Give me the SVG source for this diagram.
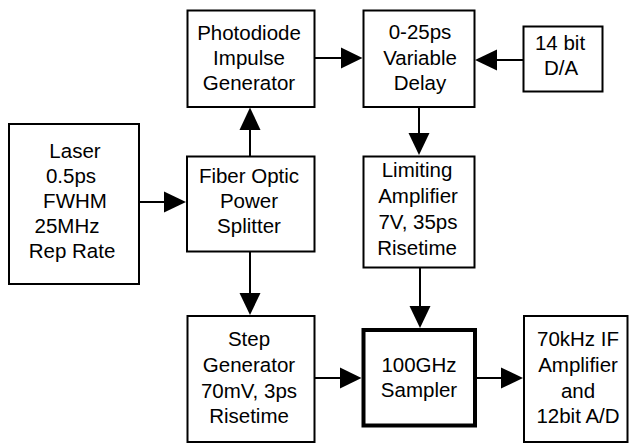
<svg xmlns="http://www.w3.org/2000/svg" width="629" height="444" viewBox="0 0 629 444">
<style>
rect{fill:#fff;stroke:#000;stroke-width:2}
rect.thick{stroke-width:4}
text{font-family:"Liberation Sans",Arial,sans-serif;font-size:20.5px;fill:#000;text-anchor:middle}
line{stroke:#000;stroke-width:2}
polygon{fill:#000}
</style>
<rect x="0" y="0" width="629" height="444" style="fill:#fff;stroke:none"/>
<g id="laser">
<rect x="9" y="124" width="130" height="160"/>
<text x="75" y="158">Laser</text>
<text x="71" y="183">0.5ps</text>
<text x="75" y="208">FWHM</text>
<text x="67" y="233">25MHz</text>
<text x="72" y="258">Rep Rate</text>
</g>
<g id="photodiode">
<rect x="187.5" y="10.5" width="127" height="96.5"/>
<text x="249" y="40">Photodiode</text>
<text x="249" y="65">Impulse</text>
<text x="249" y="90">Generator</text>
</g>
<g id="splitter">
<rect x="187" y="156.5" width="127.5" height="95"/>
<text x="249" y="183">Fiber Optic</text>
<text x="249" y="208">Power</text>
<text x="249" y="233">Splitter</text>
</g>
<g id="step">
<rect x="187.5" y="316" width="127" height="126"/>
<text x="249" y="346">Step</text>
<text x="249" y="372">Generator</text>
<text x="249" y="398">70mV, 3ps</text>
<text x="249" y="423">Risetime</text>
</g>
<g id="delay">
<rect x="363.5" y="10.5" width="111" height="96.5"/>
<text x="420" y="39">0-25ps</text>
<text x="420" y="65">Variable</text>
<text x="420" y="90">Delay</text>
</g>
<g id="da">
<rect x="523.5" y="26.5" width="79" height="65"/>
<text x="560" y="50">14 bit</text>
<text x="561" y="75">D/A</text>
</g>
<g id="limiting">
<rect x="363.5" y="156.5" width="111" height="111"/>
<text x="417" y="177">Limiting</text>
<text x="418" y="203">Amplifier</text>
<text x="418" y="229">7V, 35ps</text>
<text x="417" y="255">Risetime</text>
</g>
<g id="sampler">
<rect class="thick" x="363.5" y="330" width="111.5" height="95.5"/>
<text x="419" y="372">100GHz</text>
<text x="419" y="397">Sampler</text>
</g>
<g id="if">
<rect x="524" y="316" width="103.5" height="126"/>
<text x="578" y="346">70kHz IF</text>
<text x="578" y="372">Amplifier</text>
<text x="578" y="398">and</text>
<text x="578" y="423">12bit A/D</text>
</g>
<g id="connectors">
<line x1="139" y1="202" x2="165" y2="202"/>
<polygon points="164,191.5 186,202 164,212.5"/>
<line x1="250" y1="156" x2="250" y2="129"/>
<polygon points="239.5,130 250,107.5 260.5,130"/>
<line x1="250" y1="252" x2="250" y2="294"/>
<polygon points="239.5,293 250,315 260.5,293"/>
<line x1="315" y1="58" x2="342" y2="58"/>
<polygon points="341,47.5 362.5,58 341,68.5"/>
<line x1="523" y1="60" x2="496" y2="60"/>
<polygon points="497,49.5 475,60 497,70.5"/>
<line x1="419" y1="107" x2="419" y2="134"/>
<polygon points="408.5,133 419,155 429.5,133"/>
<line x1="420" y1="268" x2="420" y2="307"/>
<polygon points="409.5,306 420,328 430.5,306"/>
<line x1="315" y1="378" x2="341" y2="378"/>
<polygon points="340,367.5 361.5,378 340,388.5"/>
<line x1="477" y1="378" x2="502" y2="378"/>
<polygon points="501,367.5 523,378 501,388.5"/>
</g>
</svg>
